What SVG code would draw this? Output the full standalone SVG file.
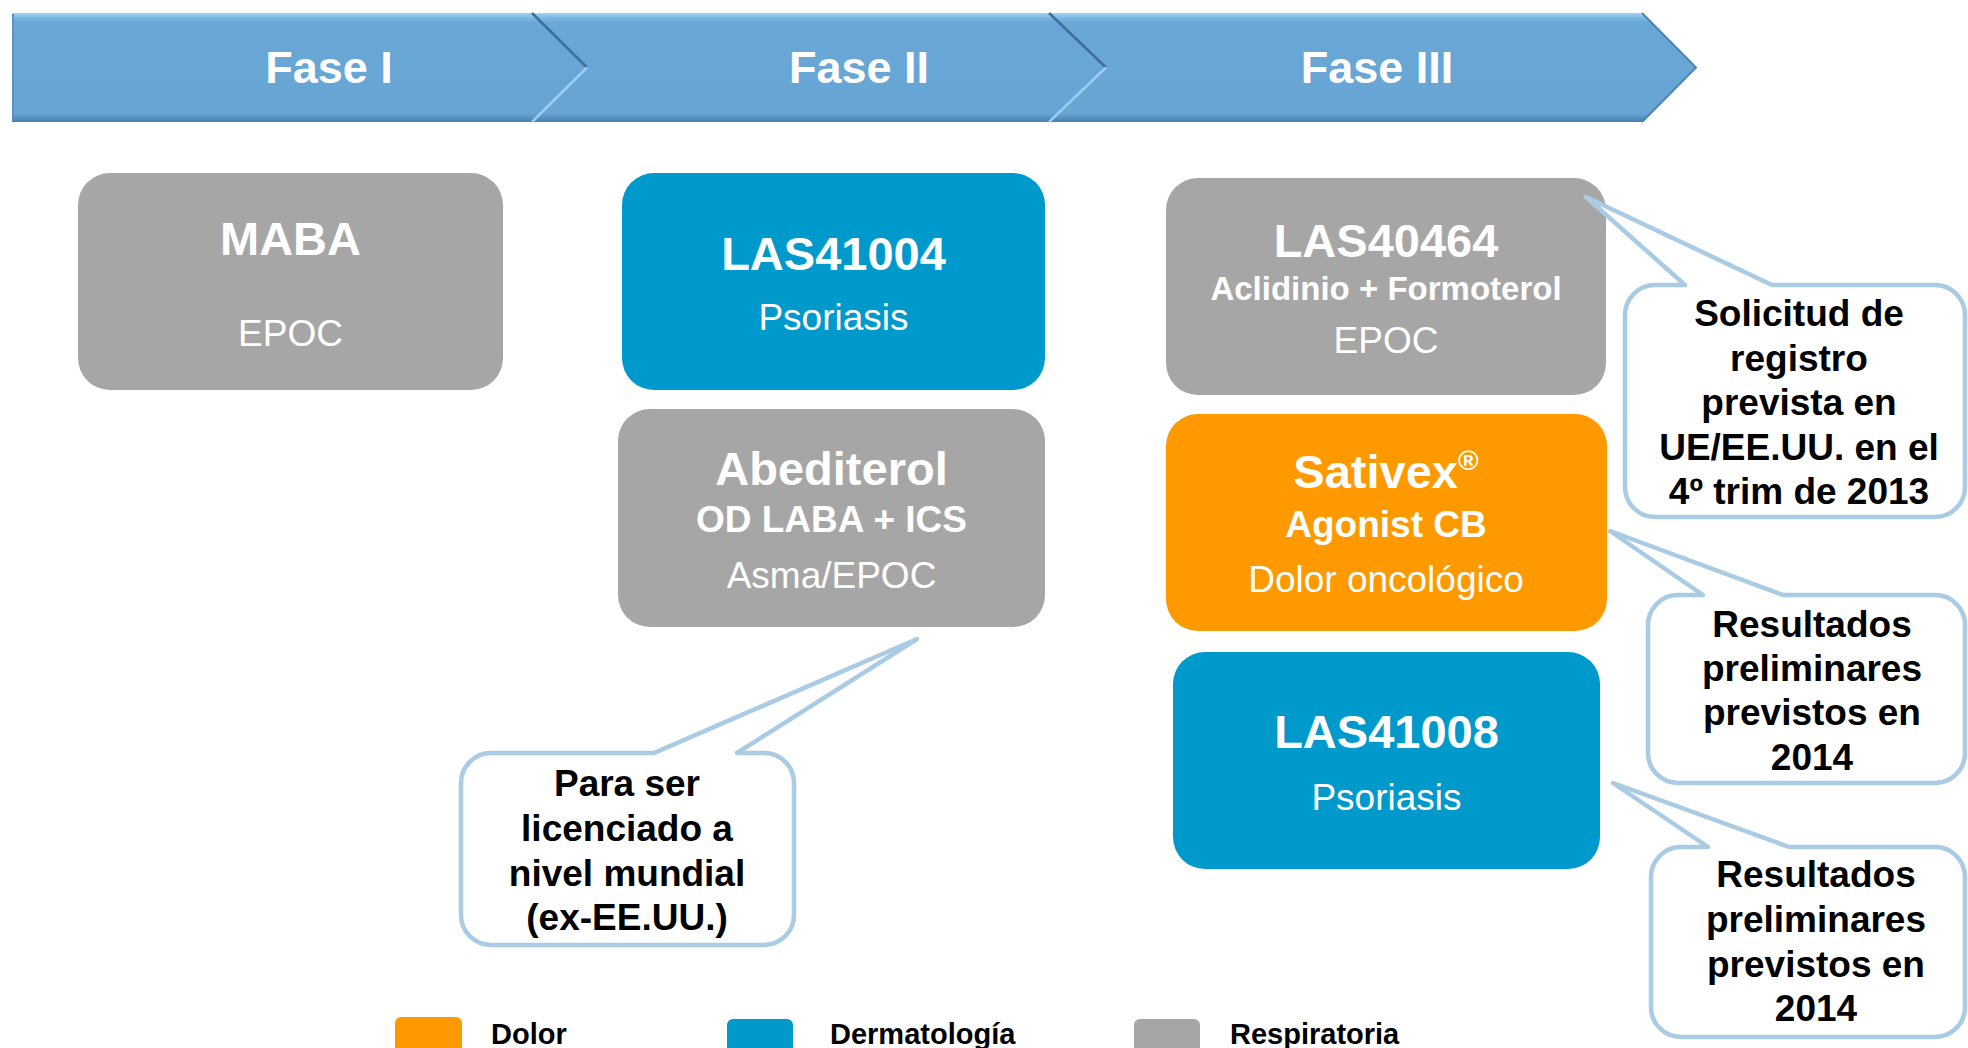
<svg xmlns="http://www.w3.org/2000/svg" width="1968" height="1048" viewBox="0 0 1968 1048">
  <defs>
    <linearGradient id="bannerGrad" x1="0" y1="0" x2="0" y2="1">
      <stop offset="0" stop-color="#a3d5f4"/>
      <stop offset="0.05" stop-color="#78b4e0"/>
      <stop offset="0.09" stop-color="#69a7d7"/>
      <stop offset="0.92" stop-color="#67a5d5"/>
      <stop offset="0.96" stop-color="#5a92c2"/>
      <stop offset="1" stop-color="#4a7ca8"/>
    </linearGradient>
    <style>
      .seg { fill: url(#bannerGrad); }
      .edgeDark { stroke: #3f6e98; stroke-width: 2.5; fill: none; }
      .edgeLight { stroke: #9ccdf0; stroke-width: 2.5; fill: none; }
      .phase { font-family: "Liberation Sans", Arial, sans-serif; font-weight: bold; font-size: 45px; fill: #ffffff; text-anchor: middle; }
      .gray { fill: #a6a6a6; }
      .blue { fill: #0099cc; }
      .orange { fill: #ff9900; }
      .title { font-family: "Liberation Sans", Arial, sans-serif; font-weight: bold; font-size: 47px; fill: #ffffff; text-anchor: middle; }
      .sub { font-family: "Liberation Sans", Arial, sans-serif; font-weight: bold; font-size: 37px; fill: #ffffff; text-anchor: middle; }
      .desc { font-family: "Liberation Sans", Arial, sans-serif; font-size: 37px; fill: #ffffff; text-anchor: middle; }
      .callout { fill: #ffffff; stroke: #a9cbe3; stroke-width: 4.5; stroke-linejoin: round; }
      .ctext { font-family: "Liberation Sans", Arial, sans-serif; font-weight: bold; font-size: 37px; fill: #000000; text-anchor: middle; }
      .legtext { font-family: "Liberation Sans", Arial, sans-serif; font-weight: bold; font-size: 29px; fill: #000000; }
    </style>
  </defs>

  <rect x="0" y="0" width="1968" height="1048" fill="#ffffff"/>

  <!-- Phase banner -->
  <g id="banner">
    <g id="phase1">
      <path class="seg" d="M12,13 L532,13 L587,67.5 L532,122 L12,122 Z"/>
      <line x1="13" y1="14" x2="13" y2="121" stroke="#5b93c3" stroke-width="2"/>
      <text class="phase" x="329" y="83">Fase I</text>
    </g>
    <g id="phase2">
      <path class="seg" d="M532,13 L1049,13 L1106,67.5 L1049,122 L532,122 L587,67.5 Z"/>
      <text class="phase" x="859" y="83">Fase II</text>
    </g>
    <g id="phase3">
      <path class="seg" d="M1049,13 L1642,13 L1696,67.5 L1642,122 L1049,122 L1106,67.5 Z"/>
      <text class="phase" x="1377" y="83">Fase III</text>
    </g>
    <polyline class="edgeDark" points="532,13 587,67.5"/>
    <polyline class="edgeLight" points="587,67.5 532,122"/>
    <polyline class="edgeDark" points="1049,13 1106,67.5"/>
    <polyline class="edgeLight" points="1106,67.5 1049,122"/>
    <polyline points="1642,13 1696,67.5 1642,122" fill="none" stroke="#4f83b0" stroke-width="2"/>
  </g>

  <!-- Connectors (callout tails are drawn as part of each callout shape) -->
  <g id="connectors"></g>

  <!-- Fase I -->
  <g id="node-maba">
    <rect class="gray" x="78" y="173" width="425" height="217" rx="32" ry="32"/>
    <text class="title" x="290.5" y="255">MABA</text>
    <text class="desc" x="290.5" y="346">EPOC</text>
  </g>

  <!-- Fase II -->
  <g id="node-las41004">
    <rect class="blue" x="622" y="173" width="423" height="217" rx="32" ry="32"/>
    <text class="title" x="833.5" y="270">LAS41004</text>
    <text class="desc" x="833.5" y="330">Psoriasis</text>
  </g>
  <g id="node-abediterol">
    <rect class="gray" x="618" y="409" width="427" height="218" rx="32" ry="32"/>
    <text class="title" x="831.5" y="485">Abediterol</text>
    <text class="sub" x="831.5" y="532">OD LABA + ICS</text>
    <text class="desc" x="831.5" y="588">Asma/EPOC</text>
  </g>

  <!-- Fase III -->
  <g id="node-las40464">
    <rect class="gray" x="1166" y="178" width="440" height="217" rx="32" ry="32"/>
    <text class="title" x="1386" y="257">LAS40464</text>
    <text class="sub" x="1386" y="300" style="font-size:33px">Aclidinio + Formoterol</text>
    <text class="desc" x="1386" y="353">EPOC</text>
  </g>
  <g id="node-sativex">
    <rect class="orange" x="1166" y="414" width="441" height="217" rx="32" ry="32"/>
    <text class="title" x="1386" y="488">Sativex<tspan font-size="28" dy="-18">®</tspan></text>
    <text class="sub" x="1386" y="537">Agonist CB</text>
    <text class="desc" x="1386" y="592">Dolor oncológico</text>
  </g>
  <g id="node-las41008">
    <rect class="blue" x="1173" y="652" width="427" height="217" rx="32" ry="32"/>
    <text class="title" x="1386.5" y="748">LAS41008</text>
    <text class="desc" x="1386.5" y="810">Psoriasis</text>
  </g>

  <!-- Callouts -->
  <g id="callout-licencia">
    <path class="callout" d="M491,753 L654,753 L917,639 L737,753 L764,753 A30,30 0 0 1 794,783 L794,915 A30,30 0 0 1 764,945 L491,945 A30,30 0 0 1 461,915 L461,783 A30,30 0 0 1 491,753 Z"/>
    <text class="ctext" x="627" y="796">Para ser</text>
    <text class="ctext" x="627" y="841">licenciado a</text>
    <text class="ctext" x="627" y="886">nivel mundial</text>
    <text class="ctext" x="627" y="930">(ex-EE.UU.)</text>
  </g>
  <g id="callout-registro">
    <path class="callout" d="M1655,285 L1685,285 L1586,197 L1772,285 L1935,285 A30,30 0 0 1 1965,315 L1965,487 A30,30 0 0 1 1935,517 L1655,517 A30,30 0 0 1 1625,487 L1625,315 A30,30 0 0 1 1655,285 Z"/>
    <text class="ctext" x="1799" y="326">Solicitud de</text>
    <text class="ctext" x="1799" y="370.5">registro</text>
    <text class="ctext" x="1799" y="415">prevista en</text>
    <text class="ctext" x="1799" y="459.5">UE/EE.UU. en el</text>
    <text class="ctext" x="1799" y="504">4º trim de 2013</text>
  </g>
  <g id="callout-sativex">
    <path class="callout" d="M1678,595 L1703,595 L1610,531 L1783,595 L1935,595 A30,30 0 0 1 1965,625 L1965,753 A30,30 0 0 1 1935,783 L1678,783 A30,30 0 0 1 1648,753 L1648,625 A30,30 0 0 1 1678,595 Z"/>
    <text class="ctext" x="1812" y="637">Resultados</text>
    <text class="ctext" x="1812" y="681">preliminares</text>
    <text class="ctext" x="1812" y="725">previstos en</text>
    <text class="ctext" x="1812" y="770">2014</text>
  </g>
  <g id="callout-las41008">
    <path class="callout" d="M1681,847 L1708,847 L1613,783 L1789,847 L1935,847 A30,30 0 0 1 1965,877 L1965,1007 A30,30 0 0 1 1935,1037 L1681,1037 A30,30 0 0 1 1651,1007 L1651,877 A30,30 0 0 1 1681,847 Z"/>
    <text class="ctext" x="1816" y="887">Resultados</text>
    <text class="ctext" x="1816" y="932">preliminares</text>
    <text class="ctext" x="1816" y="977">previstos en</text>
    <text class="ctext" x="1816" y="1021">2014</text>
  </g>

  <!-- Legend -->
  <g id="legend">
    <rect class="orange" x="395" y="1017" width="67" height="45" rx="6" ry="6"/>
    <text class="legtext" x="491" y="1044">Dolor</text>
    <rect class="blue" x="727" y="1019" width="66" height="45" rx="6" ry="6"/>
    <text class="legtext" x="830" y="1044">Dermatología</text>
    <rect class="gray" x="1134" y="1019" width="66" height="45" rx="6" ry="6"/>
    <text class="legtext" x="1230" y="1044">Respiratoria</text>
  </g>
</svg>
